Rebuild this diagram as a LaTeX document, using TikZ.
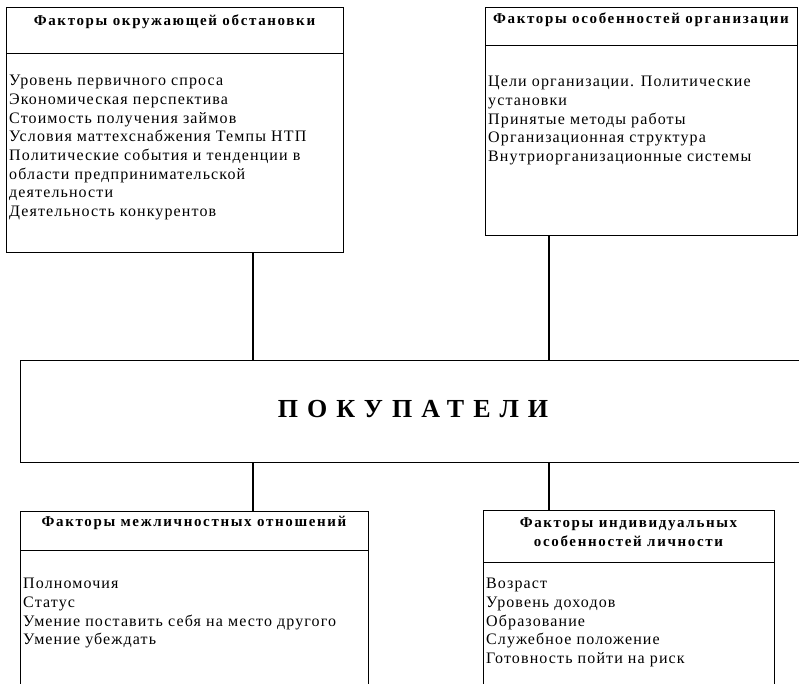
\documentclass[tikz,border=0pt]{standalone}
\usepackage{fontspec}
\setmainfont{Liberation Serif}
\newfontfamily\bodyfont[LetterSpace=7]{Liberation Serif}
\newfontfamily\headfont[LetterSpace=11]{Liberation Serif}
\newfontfamily\titlefont[LetterSpace=35]{Liberation Serif}

\begin{document}
\begin{tikzpicture}[x=1pt,y=-1pt,
		frame/.style={draw,line width=1.3pt,inner sep=0pt,anchor=north west},
		head/.style={font=\headfont\bfseries\fontsize{15}{19}\selectfont,align=center,inner sep=0pt},
		items/.style={font=\bodyfont\fontsize{16}{18.7}\selectfont,align=left,anchor=north west,inner sep=0pt},
		link/.style={line width=1.3pt}]
		\useasboundingbox (0,0) rectangle (799,684);
		\clip (0,0) rectangle (799,684);
		
		\node[frame,minimum width=337pt,minimum height=46pt] (envhead) at (6,7) {};
		\node[frame,minimum width=337pt,minimum height=199pt] (envbody) at (6,53) {};
		\node[head] (envtitle) at (174.5,22) {Факторы окружающей обстановки};
		\node[items] (envlist) at (9,75) {Уровень первичного спроса\\Экономическая перспектива\\Стоимость получения займов\\Условия маттехснабжения Темпы НТП\\Политические события и тенденции в\\области предпринимательской\\деятельности\\Деятельность конкурентов};
		
		\node[frame,minimum width=312pt,minimum height=38pt] (orghead) at (485,7) {};
		\node[frame,minimum width=312pt,minimum height=190pt] (orgbody) at (485,45) {};
		\node[head] (orgtitle) at (641,20) {Факторы особенностей организации};
		\node[items] (orglist) at (488,76) {Цели организации. Политические\\установки\\Принятые методы работы\\Организационная структура\\Внутриорганизационные системы};
		
		\node[frame,minimum width=820pt,minimum height=102pt] (buyers) at (20,360) {};
		\node[font=\titlefont\bfseries\fontsize{26}{30}\selectfont,inner sep=0pt] (buyerstitle) at (413,409) {ПОКУПАТЕЛИ};
		
		\node[frame,minimum width=348pt,minimum height=39pt] (relhead) at (20,511) {};
		\node[frame,minimum width=348pt,minimum height=200pt] (relbody) at (20,550) {};
		\node[head] (reltitle) at (194,523) {Факторы межличностных отношений};
		\node[items] (rellist) at (23,578) {Полномочия\\Статус\\Умение поставить себя на место другого\\Умение убеждать};
		
		\node[frame,minimum width=291pt,minimum height=52pt] (perhead) at (483,510) {};
		\node[frame,minimum width=291pt,minimum height=200pt] (perbody) at (483,562) {};
		\node[head] (pertitle) at (628.5,532) {Факторы индивидуальных\\особенностей личности};
		\node[items] (perlist) at (486,578) {Возраст\\Уровень доходов\\Образование\\Служебное положение\\Готовность пойти на риск};
		
		\coordinate (c1) at (253,0);
		\coordinate (c2) at (549,0);
		\draw[link] (c1 |- envbody.south) -- (c1 |- buyers.north);
		\draw[link] (c2 |- orgbody.south) -- (c2 |- buyers.north);
		\draw[link] (c1 |- buyers.south) -- (c1 |- relhead.north);
		\draw[link] (c2 |- buyers.south) -- (c2 |- perhead.north);
\end{tikzpicture}
\end{document}
